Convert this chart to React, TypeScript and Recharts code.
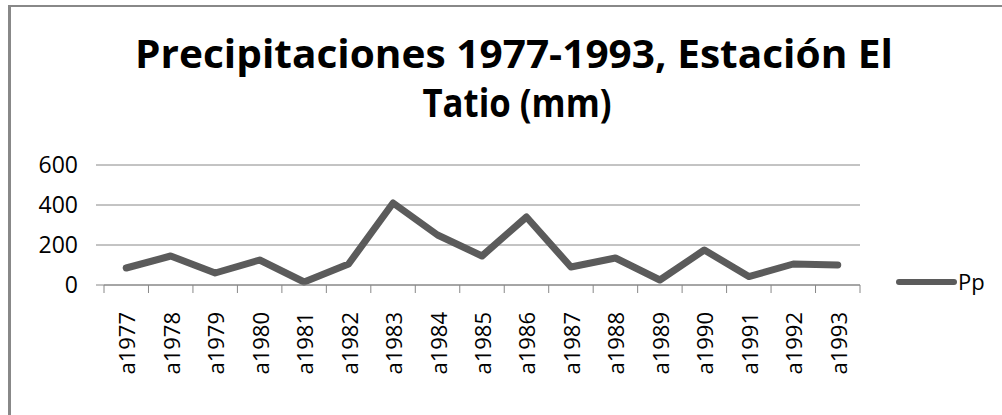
import React from 'react';
import {
  LineChart,
  Line,
  XAxis,
  YAxis,
  CartesianGrid
} from 'recharts';

// años (etiquetas del eje X)
const years = [
  'a1977', 'a1978', 'a1979', 'a1980', 'a1981', 'a1982', 'a1983', 'a1984', 'a1985',
  'a1986', 'a1987', 'a1988', 'a1989', 'a1990', 'a1991', 'a1992', 'a1993'
];

// precipitación anual (mm)
const pp = [85, 145, 60, 125, 15, 105, 410, 250, 145, 340, 90, 135, 25, 175, 42, 105, 100];

const yTicks = [0, 200, 400, 600];

const titleLines = ['Precipitaciones 1977-1993, Estación El', 'Tatio (mm)'];
const seriesName = 'Pp';

const data = years.map((y, i) => ({ year: y, Pp: pp[i] }));

const W = 1002;
const H = 415;
const MARGIN = { top: 165, right: 142, bottom: 20, left: 44 };
const Y_AXIS_W = 60;
const X_AXIS_H = 110;
const FONT = '"Open Sans", sans-serif';
const LINE_COLOR = '#5b5b5b';
const GRID_COLOR = '#888888';

const plotWidth = W - MARGIN.left - MARGIN.right - Y_AXIS_W;
const band = plotWidth / years.length;

// ancho y centro de cada línea del título (la fuente original es más estrecha)
const titleLayout = [
  { cx: 514, y: 68, len: 758 },
  { cx: 517, y: 117, len: 189 }
];

// tick personalizado: marcas en los bordes de cada categoría + texto girado
const XTick = (props: any) => {
  const { x, y, payload, index } = props;
  const left = x - band / 2;
  const right = x + band / 2;
  return (
    <g>
      <line x1={left} y1={y - 8} x2={left} y2={y} stroke={GRID_COLOR} strokeWidth={1} />
      {index === years.length - 1 && (
        <line x1={right} y1={y - 8} x2={right} y2={y} stroke={GRID_COLOR} strokeWidth={1} />
      )}
      <text
        x={x}
        y={y + 19}
        transform={`rotate(-90, ${x}, ${y + 19})`}
        textAnchor="end"
        dominantBaseline="central"
        fontFamily={FONT}
        fontSize={22}
        fill="#000"
      >
        {payload.value}
      </text>
    </g>
  );
};

export default function App() {
  return (
    <div
      style={{
        position: 'absolute',
        left: 0,
        top: 0,
        width: W,
        height: H,
        overflow: 'hidden',
        background: '#fff'
      }}
    >
      <div
        style={{
          position: 'absolute',
          left: 8,
          top: 5,
          width: W + 50,
          height: H + 50,
          borderLeft: `3px solid ${GRID_COLOR}`,
          borderTop: `2px solid ${GRID_COLOR}`,
          boxSizing: 'border-box'
        }}
      />
      <LineChart width={W} height={H} data={data} margin={MARGIN}>
        <CartesianGrid horizontal vertical={false} stroke={GRID_COLOR} strokeWidth={1} />
        <XAxis
          dataKey="year"
          height={X_AXIS_H}
          interval={0}
          padding={{ left: band / 2, right: band / 2 }}
          stroke={GRID_COLOR}
          tickLine={false}
          tick={<XTick />}
        />
        <YAxis
          width={Y_AXIS_W}
          domain={[0, 600]}
          ticks={yTicks}
          axisLine={false}
          tickLine={{ stroke: GRID_COLOR }}
          tickSize={8}
          tickMargin={18}
          tick={{ fontFamily: FONT, fontSize: 23, fill: '#000' }}
        />
        <Line
          type="linear"
          dataKey="Pp"
          stroke={LINE_COLOR}
          strokeWidth={7}
          strokeLinecap="round"
          strokeLinejoin="round"
          dot={false}
          activeDot={false}
          isAnimationActive={false}
        />
      </LineChart>
      <svg
        width={W}
        height={H}
        style={{ position: 'absolute', left: 0, top: 0, pointerEvents: 'none' }}
      >
        {titleLines.map((t, i) => (
          <text
            key={i}
            x={titleLayout[i].cx}
            y={titleLayout[i].y}
            textAnchor="middle"
            textLength={titleLayout[i].len}
            lengthAdjust="spacingAndGlyphs"
            fontFamily={FONT}
            fontWeight="bold"
            fontSize={39}
            fill="#000"
          >
            {t}
          </text>
        ))}
        {/* leyenda */}
        <line x1={899} y1={282} x2={954} y2={282} stroke={LINE_COLOR} strokeWidth={6} strokeLinecap="round" />
        <text x={958} y={290} fontFamily={FONT} fontSize={22} fill="#000">{seriesName}</text>
      </svg>
    </div>
  );
}
